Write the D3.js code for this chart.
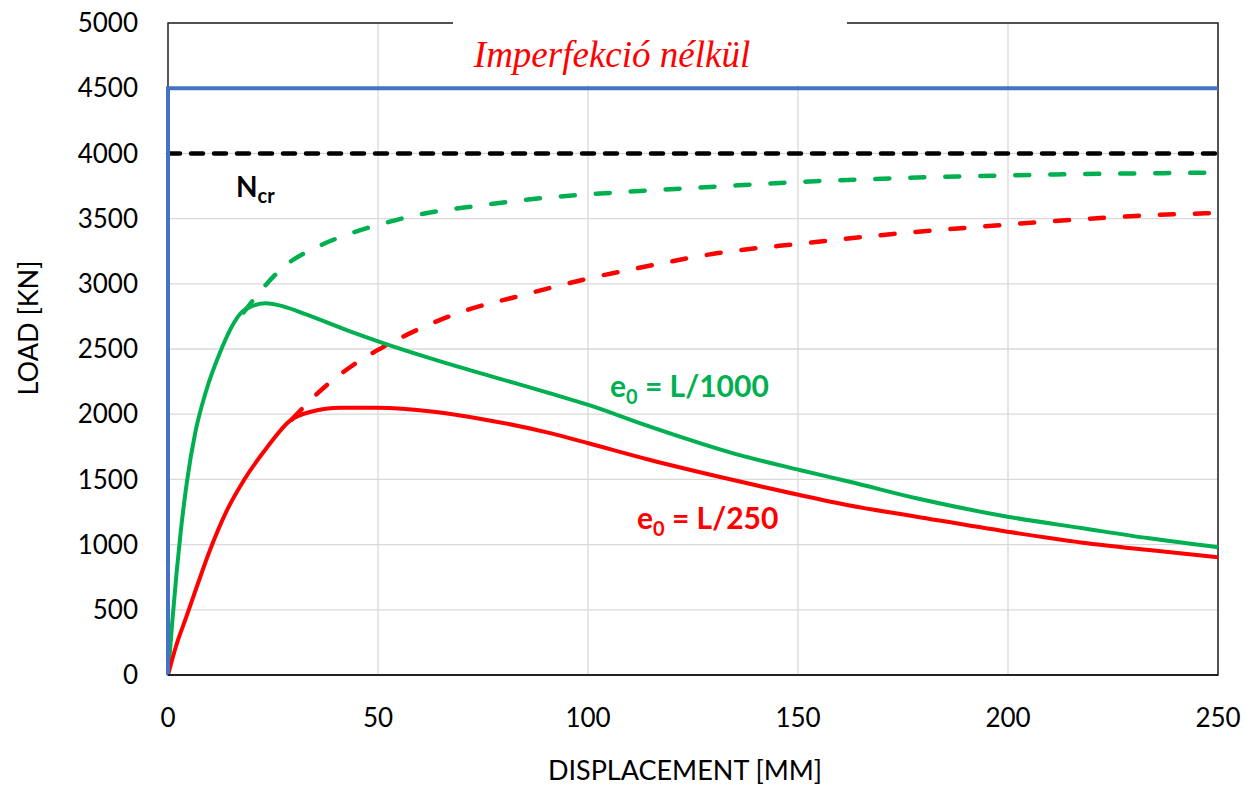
<html>
<script src="https://d3js.org/d3.v7.min.js"></script>
<style>
  body { margin: 0; background: #fff; }
  text { font-family: Lato, "Open Sans", sans-serif; }
</style>
<body>
<svg id="chart" width="1245" height="785"></svg>
<script>
// axis ticks
var xTicks = [0, 50, 100, 150, 200, 250];
var yTicks = [0, 500, 1000, 1500, 2000, 2500, 3000, 3500, 4000, 4500, 5000];

// e0 = L/1000, nonlinear (solid)
var greenSolid = [[0,0],[1,400],[2,770],[3,1090],[4.5,1480],[6.5,1860],[9,2170],[12.6,2490],[15,2660],
  [17.3,2774],[19.7,2825],[23.3,2850],[27.6,2825],[33.2,2761],[43.5,2633],[51.4,2543],[63.3,2420],[77,2290],
  [91,2160],[100.1,2071],[114.8,1904],[134.6,1700],[150.4,1572],[162.3,1482],[178.2,1355],[199.9,1214],
  [217.8,1125],[233.6,1048],[250,979]];
// e0 = L/1000, elastic (dashed)
var greenDash = [[18,2780],[22.9,2978],[27.6,3131],[35.6,3284],[43.5,3387],[51.4,3464],[59.3,3528],[75.2,3604],
  [88.7,3656],[109.7,3706],[130.6,3745],[151.6,3783],[172.6,3809],[193.6,3827],[214.6,3840],[235.6,3848],[250,3853]];
// e0 = L/250, nonlinear (solid)
var redSolid = [[0,0],[2,230],[4.3,440],[7,690],[10,958],[14,1260],[18.1,1495],[23.7,1751],[29.2,1955],[34,2019],
  [41.1,2050],[49.8,2050],[63.3,2019],[75.2,1960],[91,1855],[100.1,1777],[114.8,1649],[134.6,1495],
  [150.4,1380],[162.3,1300],[178.2,1214],[199.9,1099],[217.8,1015],[233.6,958],[250,903]];
// e0 = L/250, elastic (dashed)
var redDash = [[29.5,1960],[35.6,2160],[43.5,2364],[51.4,2518],[59.3,2646],[71.2,2799],[83.1,2902],[99.2,3034],
  [114.9,3140],[130.6,3234],[151.6,3311],[172.6,3382],[193.6,3438],[214.6,3489],[235.6,3528],[250,3543]];
// perfect column and critical load
var perfect = [[0,0],[0,4500],[250,4500]];
var ncr = [[0,4000],[250,4000]];

var svg = d3.select("#chart");
var pLeft = 168, pRight = 1218, pTop = 23, pBottom = 675;
var x = d3.scaleLinear().domain([0,250]).range([pLeft,pRight]);
var y = d3.scaleLinear().domain([0,5000]).range([pBottom,pTop]);

// grid
svg.append("g").selectAll("line").data(xTicks.slice(1)).enter().append("line")
  .attr("x1", d => x(d)).attr("x2", d => x(d)).attr("y1", pTop).attr("y2", pBottom)
  .style("stroke", "#d9d9d9").style("stroke-width", 1.3);
svg.append("g").selectAll("line").data(yTicks.slice(1)).enter().append("line")
  .attr("x1", pLeft).attr("x2", pRight).attr("y1", d => y(d)).attr("y2", d => y(d))
  .style("stroke", "#d9d9d9").style("stroke-width", 1.3);

// plot border
svg.append("rect").attr("x", pLeft).attr("y", pTop).attr("width", pRight-pLeft).attr("height", pBottom-pTop)
  .style("fill", "none").style("stroke", "#222").style("stroke-width", 1.5);

// title box
svg.append("rect").attr("x", 453).attr("y", 14).attr("width", 394).attr("height", 71).style("fill", "#fff");
svg.append("text").attr("x", 612).attr("y", 67).attr("text-anchor", "middle")
  .style("font-family", "'Liberation Serif', serif").style("font-style", "italic")
  .style("font-size", "37px").style("fill", "#ff0000").text("Imperfekció nélkül");

var line = d3.line().x(d => x(d[0])).y(d => y(d[1])).curve(d3.curveMonotoneX);
var lineStraight = d3.line().x(d => x(d[0])).y(d => y(d[1]));

svg.append("path").attr("d", lineStraight(ncr)).style("fill", "none").style("stroke", "#000")
  .style("stroke-width", 4.5).style("stroke-dasharray", "12,11").style("stroke-linecap", "round");
svg.append("path").attr("d", line(greenDash)).style("fill", "none").style("stroke", "#00b050")
  .style("stroke-width", 4.5).style("stroke-dasharray", "14,21").style("stroke-linecap", "round");
svg.append("path").attr("d", line(redDash)).style("fill", "none").style("stroke", "#ff0000")
  .style("stroke-width", 4.5).style("stroke-dasharray", "14,21").style("stroke-linecap", "round");
svg.append("path").attr("d", line(greenSolid)).style("fill", "none").style("stroke", "#00b050")
  .style("stroke-width", 4).style("stroke-linejoin", "round");
svg.append("path").attr("d", line(redSolid)).style("fill", "none").style("stroke", "#ff0000")
  .style("stroke-width", 4).style("stroke-linejoin", "round");
svg.append("path").attr("d", lineStraight(perfect)).style("fill", "none").style("stroke", "#4472c4")
  .style("stroke-width", 4);

// bottom axis line
svg.append("line").attr("x1", pLeft).attr("x2", pRight).attr("y1", pBottom).attr("y2", pBottom)
  .style("stroke", "#222").style("stroke-width", 1.8);

// tick labels
svg.append("g").selectAll("text").data(yTicks).enter().append("text")
  .attr("x", 138).attr("y", d => y(d)).attr("dy", "0.35em").attr("text-anchor", "end")
  .style("font-size", "26px").style("fill", "#000").text(d => d);
svg.append("g").selectAll("text").data(xTicks).enter().append("text")
  .attr("x", d => x(d)).attr("y", 718).attr("dy", "0.35em").attr("text-anchor", "middle")
  .style("font-size", "26px").style("fill", "#000").text(d => d);

// axis titles
svg.append("text").attr("x", 685).attr("y", 771).attr("dy", "0.35em").attr("text-anchor", "middle")
  .style("font-size", "27px").style("fill", "#000").text("DISPLACEMENT [MM]");
svg.append("text").attr("transform", "translate(29,328) rotate(-90)").attr("dy", "0.35em")
  .attr("text-anchor", "middle").style("font-size", "27px").style("fill", "#000").text("LOAD [KN]");

// annotations
var n = svg.append("text").attr("x", 236).attr("y", 197).style("font-size", "28px").style("font-weight", "bold");
n.append("tspan").text("N");
n.append("tspan").attr("dy", 6).style("font-size", "20px").text("cr");

var g1 = svg.append("text").attr("x", 610).attr("y", 397).style("font-size", "30px")
  .style("font-weight", "bold").style("fill", "#00b050");
g1.append("tspan").text("e");
g1.append("tspan").attr("dy", 7).style("font-size", "20px").text("0");
g1.append("tspan").attr("dy", -7).text(" = L/1000");

var r1 = svg.append("text").attr("x", 637).attr("y", 529).style("font-size", "30px")
  .style("font-weight", "bold").style("fill", "#ff0000");
r1.append("tspan").text("e");
r1.append("tspan").attr("dy", 7).style("font-size", "20px").text("0");
r1.append("tspan").attr("dy", -7).text(" = L/250");
</script>
</body>
</html>
